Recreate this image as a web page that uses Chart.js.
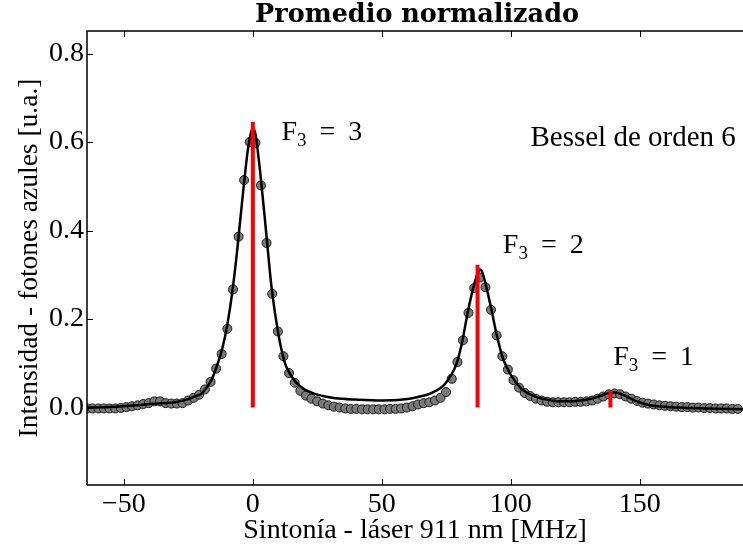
<!DOCTYPE html>
<html>
<head>
<meta charset="utf-8">
<script src="https://cdn.jsdelivr.net/npm/chart.js@4.4.1/dist/chart.umd.min.js"></script>
<style>
  html, body { margin: 0; padding: 0; background: #fff; }
  #wrap { width: 743px; height: 556px; position: relative; }
</style>
</head>
<body>
<div id="wrap"><canvas id="chart" width="743" height="556"></canvas></div>
<script>
// measured points (grey circles)
const xData = [-64.3, -62.1, -59.9, -57.75, -55.6, -53.4, -51.2, -49.05, -46.9, -44.7,
  -42.5, -40.35, -38.2, -36.0, -33.8, -31.65, -29.5, -27.3, -25.1, -22.95,
  -20.8, -18.6, -16.4, -14.25, -12.1, -9.9, -7.7, -5.55, -3.4, -1.2,
  1.0, 3.15, 5.3, 7.5, 9.7, 11.85, 14.0, 16.2, 18.4, 20.55,
  22.7, 24.9, 27.1, 29.25, 31.4, 33.6, 35.8, 37.95, 40.1, 42.3,
  44.5, 46.65, 48.8, 51.0, 53.2, 55.35, 57.5, 59.7, 61.9, 64.05,
  66.2, 68.4, 70.6, 72.75, 74.9, 77.1, 79.3, 81.45, 83.6, 85.8,
  88.0, 90.15, 92.3, 94.5, 96.7, 98.85, 101.0, 103.2, 105.4, 107.55,
  109.7, 111.9, 114.1, 116.25, 118.4, 120.6, 122.8, 124.95, 127.1, 129.3,
  131.5, 133.65, 135.8, 138.0, 140.2, 142.35, 144.5, 146.7, 148.9, 151.05,
  153.2, 155.4, 157.6, 159.75, 161.9, 164.1, 166.3, 168.45, 170.6, 172.8,
  175.0, 177.15, 179.3, 181.5, 183.7, 185.85, 188.0];
const yData = [-0.002, -0.002, -0.002, -0.002, -0.002, -0.002, -0.001, 0.001, 0.003, 0.005,
  0.008, 0.010, 0.014, 0.014, 0.010, 0.009, 0.009, 0.010, 0.016, 0.022,
  0.029, 0.041, 0.058, 0.088, 0.121, 0.178, 0.267, 0.386, 0.514, 0.600,
  0.598, 0.502, 0.372, 0.257, 0.172, 0.116, 0.078, 0.056, 0.038, 0.027,
  0.020, 0.014, 0.009, 0.005, 0.002, 0.000, -0.002, -0.003, -0.003, -0.004,
  -0.004, -0.004, -0.004, -0.004, -0.003, -0.003, -0.002, 0.000, 0.003, 0.007,
  0.010, 0.012, 0.016, 0.022, 0.035, 0.065, 0.103, 0.152, 0.214, 0.270,
  0.294, 0.272, 0.221, 0.163, 0.116, 0.086, 0.062, 0.045, 0.033, 0.026,
  0.020, 0.016, 0.013, 0.012, 0.012, 0.012, 0.012, 0.013, 0.013, 0.014,
  0.016, 0.020, 0.025, 0.030, 0.032, 0.030, 0.025, 0.020, 0.015, 0.011,
  0.009, 0.007, 0.005, 0.004, 0.003, 0.002, 0.001, 0.001, 0.000, 0.000,
  -0.001, -0.001, -0.002, -0.002, -0.002, -0.003, -0.003];

// fitted curve (black line)
const fitX = [-64.3, -55, -45, -40, -35, -30, -25, -22, -20, -18, -16, -14, -12, -10, -8, -6, -4, -2, -1, 0,
  1, 2, 3.4, 5.3, 7.2, 9.8, 12.4, 14, 16, 18, 20, 24, 28, 32, 40, 50, 58, 64, 68, 71,
  74, 77, 79, 81, 83.4, 85.4, 87, 88, 89, 90.6, 92.5, 94.5, 97, 100.3, 104, 109, 113, 117, 122, 127,
  131, 134.5, 137.5, 140.3, 143, 146, 149, 152.6, 157, 165, 175, 190];
const fitY = [0.000, 0.001, 0.005, 0.008, 0.010, 0.012, 0.019, 0.026, 0.031, 0.045, 0.063, 0.093, 0.130, 0.184, 0.260, 0.360, 0.475, 0.580, 0.615, 0.632,
  0.618, 0.575, 0.500, 0.387, 0.274, 0.169, 0.101, 0.080, 0.062, 0.050, 0.041, 0.031, 0.025, 0.021, 0.018, 0.016, 0.018, 0.024, 0.030, 0.038,
  0.050, 0.075, 0.100, 0.145, 0.218, 0.270, 0.300, 0.312, 0.305, 0.270, 0.221, 0.165, 0.110, 0.071, 0.043, 0.026, 0.019, 0.015, 0.014, 0.016,
  0.020, 0.026, 0.032, 0.034, 0.030, 0.022, 0.014, 0.007, 0.003, 0.000, -0.002, -0.004];

// red transition lines
const lineX = [0, 87.1, 138.6];
const lineTop = [0.646, 0.323, 0.038];
const lineNames = ['3', '2', '1'];

const xTicks = [-50, 0, 50, 100, 150];
const yTicks = [0.0, 0.2, 0.4, 0.6, 0.8];

// label anchors (data coords, left/baseline)
const labelPos = [[11.1, 0.604], [96.9, 0.349], [139.7, 0.097]];
const besselPos = [107.6, 0.590];

const SERIF = '"Liberation Serif", "DejaVu Serif", serif';

const points = xData.map((x, i) => ({ x: x, y: yData[i] }));
const fit = fitX.map((x, i) => ({ x: x, y: fitY[i] }));

const redSets = lineX.map((x, i) => ({
    type: 'line',
    label: 'F3=' + lineNames[i],
    data: [{ x: x, y: 0 }, { x: x, y: lineTop[i] }],
    borderColor: '#ff0000',
    borderWidth: 4,
    pointRadius: 0,
    order: 0
}));

const frame = {
    id: 'frame',
    afterDatasetsDraw(chart) {
        const { ctx, chartArea: a, scales } = chart;
        ctx.save();
        ctx.strokeStyle = '#000';
        ctx.lineWidth = 1.5;
        ctx.beginPath();
        ctx.moveTo(a.left, a.bottom);
        ctx.lineTo(a.left, a.top);
        ctx.lineTo(a.right, a.top);
        ctx.moveTo(a.left, a.bottom);
        ctx.lineTo(a.right, a.bottom);
        ctx.stroke();

        ctx.lineWidth = 1;
        ctx.beginPath();
        xTicks.forEach(v => {
            const px = Math.round(scales.x.getPixelForValue(v)) + 0.5;
            ctx.moveTo(px, a.bottom); ctx.lineTo(px, a.bottom - 6);
            ctx.moveTo(px, a.top); ctx.lineTo(px, a.top + 6);
        });
        yTicks.forEach(v => {
            const py = Math.round(scales.y.getPixelForValue(v)) + 0.5;
            ctx.moveTo(a.left, py); ctx.lineTo(a.left + 6, py);
        });
        ctx.stroke();

        // annotations
        ctx.fillStyle = '#000';
        ctx.textBaseline = 'alphabetic';
        ctx.textAlign = 'left';
        labelPos.forEach((p, i) => {
            let px = scales.x.getPixelForValue(p[0]);
            const py = scales.y.getPixelForValue(p[1]);
            ctx.font = '28px ' + SERIF;
            ctx.fillText('F', px, py);
            px += ctx.measureText('F').width;
            ctx.font = '19px ' + SERIF;
            ctx.fillText('3', px, py + 6);
            px += ctx.measureText('3').width + 13;
            ctx.font = '28px ' + SERIF;
            ctx.fillText('=', px, py);
            px += ctx.measureText('=').width + 13;
            ctx.fillText(lineNames[i], px, py);
        });
        ctx.font = '29px ' + SERIF;
        ctx.fillText('Bessel de orden 6', scales.x.getPixelForValue(besselPos[0]), scales.y.getPixelForValue(besselPos[1]));

        // title
        ctx.font = 'bold 25.5px "DejaVu Serif", serif';
        ctx.textAlign = 'center';
        ctx.textBaseline = 'middle';
        ctx.fillText('Promedio normalizado', (a.left + a.right) / 2 + 2, 15);
        ctx.restore();
    }
};

new Chart(document.getElementById('chart'), {
    type: 'scatter',
    data: {
        datasets: [
            ...redSets,
            {
                type: 'line',
                label: 'Bessel de orden 6',
                data: fit,
                borderColor: '#000',
                borderWidth: 2.5,
                pointRadius: 0,
                cubicInterpolationMode: 'monotone',
                order: 1
            },
            {
                label: 'Promedio',
                data: points,
                backgroundColor: '#7a7a7a',
                borderColor: '#1a1a1a',
                borderWidth: 1,
                pointRadius: 4.5,
                order: 2
            }
        ]
    },
    options: {
        responsive: false,
        animation: false,
        devicePixelRatio: 1,
        layout: { autoPadding: false, padding: { top: 31, left: 0, right: 0, bottom: 0 } },
        plugins: {
            legend: { display: false },
            tooltip: { enabled: false },
            title: { display: false }
        },
        scales: {
            x: {
                type: 'linear',
                min: -64.3,
                max: 190,
                grid: { display: false, drawTicks: false },
                border: { display: false },
                afterBuildTicks: s => { s.ticks = xTicks.map(v => ({ value: v })); },
                afterFit: s => { s.height = 71; s.paddingLeft = 0; s.paddingRight = 0; },
                ticks: {
                    color: '#000',
                    padding: 3,
                    maxRotation: 0,
                    font: { family: SERIF, size: 28 },
                    callback: v => String(v).replace('-', '\u2212')
                },
                title: {
                    display: true,
                    text: 'Sintonía - láser 911 nm [MHz]',
                    color: '#000',
                    font: { family: SERIF, size: 28 },
                    padding: { top: 0, bottom: 9 }
                }
            },
            y: {
                type: 'linear',
                min: -0.175,
                max: 0.851,
                grid: { display: false, drawTicks: false },
                border: { display: false },
                afterBuildTicks: s => { s.ticks = yTicks.map(v => ({ value: v })); },
                afterFit: s => { s.width = 87; s.paddingTop = 0; s.paddingBottom = 0; },
                ticks: {
                    color: '#000',
                    padding: 3,
                    font: { family: SERIF, size: 28 },
                    callback: v => v.toFixed(1)
                },
                title: {
                    display: true,
                    text: 'Intensidad - fotones azules [u.a.]',
                    color: '#000',
                    font: { family: SERIF, size: 27.5 },
                    padding: { top: 13, bottom: 0 }
                }
            }
        }
    },
    plugins: [frame]
});
</script>
</body>
</html>
